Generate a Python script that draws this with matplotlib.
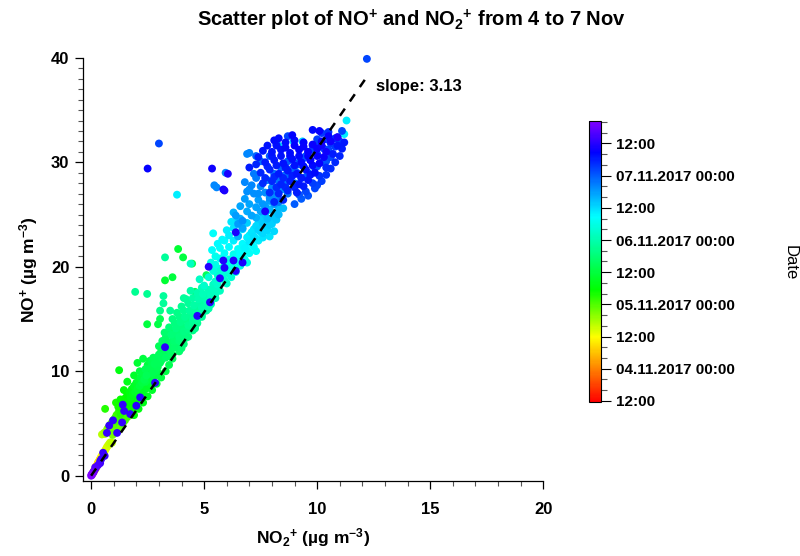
import matplotlib
matplotlib.use('Agg')
import matplotlib.pyplot as plt
from matplotlib.colors import LinearSegmentedColormap
from matplotlib.ticker import MultipleLocator, FixedLocator, FuncFormatter
import matplotlib.dates as mdates
from datetime import datetime, timedelta
import numpy as np

plt.rcParams['font.family'] = ['Liberation Sans', 'DejaVu Sans']
plt.rcParams['font.weight'] = 'bold'
plt.rcParams['mathtext.fontset'] = 'custom'
plt.rcParams['mathtext.rm'] = 'Liberation Sans:bold'
plt.rcParams['mathtext.it'] = 'Liberation Sans:bold'
plt.rcParams['mathtext.bf'] = 'Liberation Sans:bold'
plt.rcParams['mathtext.default'] = 'rm'

# points as (NO2+, NO+, hours after 03.11.2017 12:00)
nov4_am = [(0.05, 0.15, 12), (0.10, 0.30, 13), (0.12, 0.45, 14), (0.18, 0.60, 15),
           (0.22, 0.75, 16), (0.20, 0.85, 17), (0.25, 0.95, 18), (0.28, 1.10, 19),
           (0.30, 1.25, 20), (0.35, 1.40, 21), (0.38, 1.55, 22), (0.42, 1.70, 23)]

nov4_pm = [(0.45, 1.85, 24), (0.50, 2.00, 24.5), (0.55, 2.20, 25), (0.60, 2.35, 25.5),
           (0.65, 2.55, 26), (0.70, 2.75, 26.5), (0.75, 2.90, 27), (0.80, 3.05, 27.5),
           (0.85, 3.20, 28), (0.92, 3.15, 28.5), (0.48, 3.95, 29), (0.57, 4.10, 29.5),
           (0.62, 4.00, 30), (0.70, 4.30, 31), (0.65, 4.20, 31.5), (0.72, 4.50, 32),
           (0.78, 4.30, 32.5), (0.80, 4.70, 33), (0.85, 4.90, 33.5), (0.90, 4.60, 34),
           (0.92, 5.10, 34.5), (0.98, 5.30, 35), (1.00, 4.90, 35.5), (1.05, 5.50, 36),
           (1.10, 5.20, 36.5), (1.12, 5.80, 37), (1.18, 5.60, 37.5), (1.20, 6.00, 38),
           (1.25, 6.30, 38.5), (1.30, 5.90, 39), (1.35, 6.50, 39.5), (0.62, 6.40, 39),
           (1.40, 6.80, 40), (1.10, 7.00, 40), (1.20, 4.30, 34), (1.30, 4.60, 35),
           (1.40, 5.00, 35.5), (1.50, 5.30, 36), (1.60, 5.60, 37), (1.70, 5.90, 38),
           (1.35, 5.50, 36), (1.50, 6.00, 37), (1.15, 4.70, 34), (1.25, 5.00, 35),
           (0.95, 3.90, 33), (1.05, 4.10, 33.5), (1.80, 6.20, 39), (1.60, 6.40, 38.5),
           (1.00, 4.50, 34)]

nov5_am = [(1.40, 7.00, 40.5), (1.50, 7.40, 41), (1.55, 6.80, 41.5), (1.60, 7.80, 42),
           (1.65, 7.20, 42.5), (1.70, 8.00, 43), (1.75, 7.50, 43.5), (1.80, 8.30, 44),
           (1.85, 7.80, 44.5), (1.90, 8.60, 45), (1.95, 8.00, 45.5), (2.00, 8.90, 46),
           (2.05, 8.30, 46.5), (2.10, 9.10, 47), (2.15, 8.60, 47.5), (2.20, 9.40, 48),
           (2.25, 8.90, 48.5), (2.30, 9.80, 49), (2.35, 9.20, 49.5), (2.40, 10.20, 50),
           (2.45, 9.60, 50.5), (2.50, 10.60, 48), (2.55, 10.00, 49), (2.60, 11.00, 49),
           (2.65, 10.40, 50), (2.70, 10.90, 50), (2.75, 11.30, 50.5), (2.80, 10.70, 51),
           (2.90, 11.20, 51), (3.00, 11.60, 51.5), (1.60, 9.00, 44), (1.90, 9.60, 46),
           (1.24, 10.10, 43), (2.05, 10.80, 47), (2.30, 11.20, 48), (1.20, 6.60, 40),
           (1.30, 7.30, 41), (1.45, 8.20, 42), (2.15, 10.00, 48), (2.40, 9.00, 49),
           (2.70, 9.80, 50), (2.48, 14.50, 48), (2.96, 14.50, 49), (3.05, 15.00, 50),
           (3.27, 18.70, 47), (3.60, 19.00, 48), (3.85, 21.70, 47), (4.07, 20.90, 48),
           (4.47, 20.30, 50), (4.60, 17.60, 50), (5.10, 19.20, 51),
           (1.90, 6.50, 41), (2.00, 7.00, 42), (2.10, 7.40, 43), (2.20, 7.80, 44),
           (2.30, 8.10, 45), (2.45, 8.50, 46), (2.55, 8.90, 47), (2.65, 9.30, 48),
           (2.75, 9.60, 49), (2.85, 10.00, 50), (2.95, 10.40, 50.5), (3.05, 10.80, 51),
           (3.15, 11.20, 51.5), (3.30, 11.30, 52), (2.20, 8.30, 44), (2.35, 8.70, 45),
           (2.50, 9.20, 46), (2.60, 9.70, 47), (2.85, 10.50, 49), (3.10, 11.00, 50),
           (1.80, 6.90, 41), (1.95, 7.30, 42), (2.10, 7.90, 43), (2.40, 8.30, 45),
           (2.70, 9.10, 48), (2.90, 9.60, 49), (1.70, 6.40, 40.5), (2.50, 9.90, 47),
           (2.75, 10.30, 48), (2.30, 9.50, 46),
           (2.30, 7.00, 44), (2.50, 7.60, 45), (2.70, 8.20, 46), (2.90, 8.80, 47),
           (3.10, 9.40, 48), (3.30, 10.00, 49), (3.45, 10.60, 50), (3.60, 11.20, 51),
           (2.10, 6.40, 43), (1.90, 5.80, 42), (3.50, 11.90, 52), (3.00, 9.80, 48.5),
           (2.60, 8.40, 46)]

nov5_pm = [(3.10, 11.90, 50), (3.20, 12.30, 50.5), (3.30, 11.80, 51), (3.40, 12.60, 51.5),
           (3.00, 12.40, 51), (3.30, 11.60, 51.5), (3.40, 12.80, 52), (3.50, 12.20, 52.5),
           (3.60, 13.40, 53), (3.70, 12.90, 53.5), (3.30, 13.20, 52), (3.80, 13.80, 54),
           (3.90, 13.30, 54.5), (3.50, 13.90, 53), (4.00, 14.30, 55), (4.10, 13.80, 55.5),
           (3.70, 14.60, 55), (4.20, 14.90, 56), (4.30, 14.40, 56.5), (3.90, 15.20, 56),
           (4.40, 15.40, 57), (4.50, 14.90, 57.5), (4.10, 15.80, 57), (4.60, 16.00, 58),
           (4.70, 15.50, 58.5), (4.30, 16.50, 58), (4.80, 16.60, 59), (4.90, 16.10, 59.5),
           (4.50, 17.00, 59), (5.00, 17.20, 60), (5.10, 16.80, 60.5), (4.70, 17.50, 60),
           (5.20, 17.80, 61), (5.30, 17.30, 61.5), (4.90, 18.00, 61), (5.40, 18.30, 62),
           (3.45, 14.20, 54), (3.60, 15.00, 55), (3.80, 15.60, 56), (4.00, 16.20, 57),
           (4.20, 16.90, 58), (3.25, 13.70, 53), (3.15, 12.90, 52), (4.60, 14.30, 56),
           (4.20, 13.20, 55), (3.80, 12.30, 53), (3.60, 11.60, 52), (4.90, 15.40, 58),
           (5.30, 16.50, 60), (5.50, 17.40, 61), (1.95, 17.60, 57), (2.48, 17.40, 57),
           (3.20, 17.20, 58), (3.20, 16.50, 58), (3.50, 15.80, 57), (3.05, 15.80, 56),
           (3.27, 20.90, 58), (4.10, 17.00, 58), (4.40, 17.70, 59),
           (3.70, 12.30, 53), (3.90, 12.90, 54), (4.10, 13.40, 55), (4.30, 14.00, 56),
           (4.50, 14.50, 57), (4.70, 15.00, 58), (4.90, 15.60, 59), (5.10, 16.20, 60),
           (5.30, 16.90, 61), (5.50, 17.60, 62), (3.60, 12.90, 53), (3.85, 13.60, 54),
           (4.05, 14.20, 55), (4.25, 14.80, 56), (4.45, 15.30, 57), (4.65, 15.90, 58),
           (4.85, 16.40, 59), (5.05, 17.00, 60), (5.25, 17.60, 61), (5.40, 17.90, 62),
           (3.55, 13.50, 54), (3.75, 14.10, 55), (3.95, 14.70, 56), (4.15, 15.20, 57),
           (4.35, 15.80, 58), (4.55, 16.30, 59), (4.75, 16.90, 60), (4.95, 17.40, 61),
           (3.90, 11.90, 53), (4.10, 12.60, 54), (4.30, 13.30, 55), (4.50, 13.90, 56),
           (4.70, 14.60, 57), (4.90, 15.20, 58), (5.10, 15.80, 59), (5.30, 16.40, 60),
           (5.50, 17.00, 61), (5.70, 17.70, 62), (4.00, 12.20, 53.5), (4.60, 14.10, 56.5),
           (5.20, 16.00, 59.5)]

nov6_am = [(5.50, 18.60, 63), (5.60, 19.20, 63.5), (5.20, 19.00, 64), (5.70, 19.80, 64),
           (5.80, 19.30, 64.5), (5.40, 19.60, 65), (5.90, 20.20, 65), (6.00, 19.80, 65.5),
           (5.50, 20.20, 66), (6.10, 20.70, 66), (6.20, 20.30, 66.5), (5.70, 20.80, 67),
           (6.30, 21.20, 67), (6.40, 20.80, 67.5), (5.90, 21.30, 68), (6.50, 21.70, 68),
           (6.60, 21.30, 68.5), (6.10, 21.90, 69), (6.70, 22.20, 69), (6.80, 21.80, 69.5),
           (6.30, 22.50, 70), (6.90, 22.80, 70), (7.00, 22.40, 70.5), (6.50, 23.00, 71),
           (7.10, 23.30, 71), (7.20, 22.90, 71.5), (6.70, 23.60, 72), (7.30, 23.90, 72),
           (7.40, 23.50, 72.5), (6.90, 24.20, 73), (7.50, 24.50, 73), (7.60, 24.10, 73.5),
           (7.70, 25.00, 74), (7.80, 24.60, 74.5), (7.90, 25.50, 75), (7.60, 23.20, 72),
           (7.90, 24.00, 73), (8.10, 24.80, 74), (5.40, 23.20, 68), (5.60, 22.20, 69),
           (5.35, 21.60, 68), (4.40, 20.30, 62), (5.00, 18.20, 63), (4.80, 18.80, 62.5),
           (3.80, 26.90, 70), (11.20, 32.70, 70), (11.30, 34.00, 70), (8.95, 32.00, 72),
           (8.30, 31.60, 72), (9.35, 32.00, 72), (6.00, 23.50, 70), (6.20, 24.30, 71),
           (5.80, 22.60, 69),
           (5.90, 18.70, 63), (6.10, 19.30, 64), (6.30, 19.90, 65), (6.50, 20.50, 66),
           (6.70, 21.00, 67), (6.90, 21.60, 68), (7.10, 22.20, 69), (7.30, 22.70, 70),
           (7.50, 23.30, 71), (7.70, 23.90, 72), (7.90, 24.40, 73), (8.10, 25.10, 74),
           (8.30, 25.60, 75), (5.60, 18.30, 63), (5.80, 19.00, 64), (6.00, 19.60, 65),
           (6.20, 20.10, 66), (6.40, 20.60, 67), (6.60, 21.20, 68), (6.80, 21.90, 69),
           (7.00, 23.00, 70), (7.20, 23.60, 71), (7.40, 24.20, 72), (7.60, 24.80, 73),
           (7.80, 25.40, 74), (5.90, 22.50, 69), (6.10, 23.00, 70), (6.30, 23.70, 71),
           (6.50, 24.50, 72), (5.70, 21.80, 68), (5.50, 21.00, 67), (5.30, 20.40, 66),
           (6.00, 18.40, 63), (6.20, 19.00, 64), (6.40, 19.50, 65), (6.60, 20.10, 66),
           (6.80, 20.70, 67), (7.00, 21.30, 68), (7.20, 21.90, 69), (7.40, 22.50, 70),
           (7.60, 22.80, 71), (7.80, 23.50, 72), (8.00, 24.10, 73), (8.20, 24.50, 74),
           (8.10, 23.40, 72), (8.30, 25.00, 75), (8.50, 25.60, 75), (7.90, 22.90, 71),
           (6.90, 20.40, 66), (7.30, 21.50, 68)]

nov6_pm = [(6.60, 24.60, 76), (6.90, 25.30, 76.5), (7.10, 24.90, 77), (7.00, 26.00, 77),
           (7.30, 25.70, 77.5), (6.80, 26.50, 78), (7.40, 26.40, 78), (7.60, 26.00, 78.5),
           (7.20, 27.00, 79), (7.70, 27.10, 79), (7.90, 26.60, 79.5), (7.50, 27.70, 80),
           (8.00, 27.60, 80), (8.20, 27.20, 80.5), (7.80, 28.30, 81), (8.30, 28.20, 81),
           (8.50, 27.80, 81.5), (8.10, 28.90, 82), (8.60, 28.80, 82), (8.80, 28.40, 82.5),
           (8.40, 29.50, 83), (8.90, 29.40, 83), (9.10, 29.00, 83.5), (8.70, 30.10, 84),
           (9.20, 30.00, 84), (9.40, 29.60, 84.5), (9.50, 30.60, 85), (9.70, 30.20, 85.5),
           (9.80, 31.20, 86), (10.00, 30.80, 86), (10.10, 31.70, 86.5), (10.30, 31.30, 87),
           (10.40, 32.20, 87), (10.60, 31.80, 87.5), (10.80, 32.30, 88), (10.90, 32.40, 87),
           (7.00, 30.90, 80), (6.90, 30.80, 80), (5.95, 29.00, 80), (3.00, 31.80, 86),
           (6.50, 22.90, 76), (6.70, 23.70, 77), (6.40, 24.90, 78), (6.50, 24.10, 78),
           (6.70, 24.40, 79), (5.45, 27.80, 80), (5.55, 27.60, 80), (12.20, 39.90, 86),
           (7.30, 28.50, 81), (7.10, 27.80, 80), (6.90, 27.20, 79), (10.60, 30.50, 86),
           (10.20, 30.00, 85), (9.90, 29.50, 85), (9.50, 28.60, 84), (9.10, 27.90, 83),
           (8.70, 27.00, 82), (8.30, 26.20, 81),
           (7.30, 24.70, 76), (7.50, 25.30, 77), (7.70, 25.80, 77.5), (7.90, 26.30, 78),
           (8.10, 26.00, 78.5), (8.20, 26.90, 79), (8.40, 27.40, 80), (8.60, 27.90, 81),
           (8.80, 28.60, 82), (9.00, 29.20, 83), (9.20, 29.80, 84), (9.40, 30.40, 85),
           (9.60, 31.00, 86), (9.80, 31.60, 86.5), (10.00, 32.20, 87), (10.20, 32.80, 87.5),
           (10.50, 32.90, 88), (10.80, 31.50, 87), (11.00, 32.00, 87), (10.50, 31.20, 86),
           (10.40, 30.10, 85), (10.00, 29.60, 84), (9.60, 29.00, 83), (9.30, 28.50, 82),
           (9.00, 28.00, 81), (8.60, 27.40, 80), (8.20, 26.60, 79), (7.40, 27.00, 79),
           (7.00, 27.40, 79), (6.80, 28.10, 80), (7.20, 28.90, 81), (7.50, 30.10, 82),
           (7.30, 30.60, 83), (7.90, 30.60, 84), (8.20, 31.70, 85), (8.70, 32.50, 86),
           (11.10, 33.00, 86), (6.60, 25.80, 77), (6.30, 25.20, 76),
           (9.60, 26.80, 85), (9.90, 27.50, 86), (10.20, 28.20, 87), (10.40, 28.80, 88),
           (10.60, 29.40, 88.5), (10.80, 30.00, 89), (11.00, 30.60, 89.5), (11.10, 31.30, 90),
           (11.20, 31.90, 90.5), (9.30, 26.50, 84), (9.80, 28.00, 87), (10.10, 28.70, 88),
           (10.40, 29.50, 89), (10.70, 30.80, 90), (10.90, 31.60, 90.5), (9.50, 27.20, 86),
           (10.00, 27.80, 86), (9.00, 26.00, 84), (9.20, 26.90, 85)]

nov7_am = [(8.60, 31.90, 92), (9.00, 32.10, 92), (9.40, 31.90, 92.5), (9.80, 33.10, 92),
           (10.20, 32.00, 93), (10.50, 32.50, 93), (7.60, 31.10, 91), (8.00, 31.00, 91),
           (8.40, 31.20, 91.5), (8.80, 30.90, 92), (9.20, 31.20, 92.5), (9.60, 31.00, 93),
           (10.00, 31.30, 93.5), (10.40, 31.00, 94), (7.70, 30.00, 90), (8.10, 30.20, 90.5),
           (8.50, 29.90, 91), (8.90, 30.30, 91.5), (9.30, 30.00, 92), (9.70, 30.20, 92.5),
           (10.10, 29.90, 93), (10.30, 30.50, 93.5), (7.00, 29.50, 90), (7.50, 29.00, 89),
           (7.90, 29.30, 89.5), (8.30, 28.90, 90), (8.70, 29.20, 90.5), (9.10, 28.90, 91),
           (9.50, 29.30, 91.5), (9.90, 29.00, 92), (7.60, 28.00, 88.5), (8.00, 28.20, 89),
           (8.40, 27.90, 89.5), (8.80, 28.20, 90), (9.20, 27.90, 90.5), (9.60, 28.30, 91),
           (7.90, 27.10, 88.5), (8.30, 27.00, 89), (8.70, 27.30, 89.5), (9.10, 27.10, 90),
           (8.10, 26.20, 89), (8.50, 26.40, 89.5), (2.50, 29.40, 93), (5.35, 29.40, 94),
           (6.05, 28.90, 95), (5.90, 27.30, 95), (5.85, 27.40, 94), (10.90, 32.40, 95),
           (7.80, 31.60, 91), (8.20, 31.60, 91.5), (8.60, 31.40, 92), (9.00, 31.60, 92.5),
           (9.40, 31.50, 93), (9.80, 31.70, 93.5), (10.20, 31.60, 94), (8.00, 30.60, 90.5),
           (8.40, 30.60, 91), (8.80, 30.60, 91.5), (9.20, 30.60, 92), (9.60, 30.60, 92.5),
           (10.00, 30.60, 93), (7.80, 29.60, 89.5), (8.20, 29.70, 90), (8.60, 29.50, 90.5),
           (9.00, 29.70, 91), (9.40, 29.60, 91.5), (9.80, 29.70, 92), (8.10, 28.60, 89),
           (8.50, 28.50, 89.5), (8.90, 28.70, 90), (9.30, 28.50, 90.5), (9.70, 28.80, 91),
           (8.20, 27.60, 88.5), (8.60, 27.60, 89), (9.00, 27.60, 89.5), (9.40, 27.70, 90),
           (7.40, 30.50, 90), (7.30, 29.80, 89.5), (8.30, 32.30, 92), (8.90, 32.60, 92.5),
           (10.10, 33.00, 93), (10.60, 32.00, 94), (7.70, 28.50, 89), (8.10, 32.10, 92)]

nov7_pm = [(7.70, 25.30, 94.5), (6.40, 23.30, 95), (6.70, 20.40, 95), (6.30, 20.60, 95.5),
           (5.85, 20.60, 95.5), (5.90, 19.90, 95.5), (6.40, 19.60, 95.5), (5.20, 20.00, 96),
           (5.70, 18.90, 96), (5.26, 16.60, 96), (4.70, 15.30, 96), (3.27, 12.30, 96.5),
           (2.83, 8.90, 96.5), (2.17, 7.50, 96.5), (2.00, 6.70, 96.5), (1.73, 5.90, 97),
           (1.46, 6.20, 97), (1.37, 5.10, 97), (1.15, 4.10, 97), (0.97, 5.30, 97),
           (0.80, 4.80, 97), (0.70, 4.10, 97.5), (1.40, 6.80, 97), (0.53, 2.20, 97.5),
           (0.45, 1.60, 98), (0.40, 1.40, 98), (0.40, 1.20, 98.5), (0.30, 1.00, 99),
           (0.18, 0.80, 99.5), (0.20, 0.70, 100), (0.60, 1.90, 98), (0.12, 0.40, 101),
           (0.10, 0.35, 102), (0.08, 0.25, 102.5), (0.05, 0.20, 103), (0.03, 0.05, 103.5),
           (0.02, 0.10, 104), (0.00, 0.00, 104)]

fit_slope = 3.13
fit_x_end = 12.2

start = datetime(2017, 11, 3, 12, 0)
c_min = mdates.date2num(start - timedelta(hours=0.4))
c_max = mdates.date2num(start + timedelta(hours=104.3))

pts = np.array(nov4_am + nov4_pm + nov5_am + nov5_pm + nov6_am + nov6_pm + nov7_am + nov7_pm)
pts = pts[np.argsort(pts[:, 2], kind='stable')]
no2 = pts[:, 0]
no = pts[:, 1]
when = mdates.date2num(start) + pts[:, 2] / 24.0

# Igor-like rainbow: red -> yellow -> green -> cyan -> blue -> violet
cmap = LinearSegmentedColormap.from_list('igor_rainbow', [
    (0.0, (1, 0, 0)), (0.23, (1, 1, 0)), (0.40, (0, 1, 0)),
    (0.66, (0, 1, 1)), (0.89, (0, 0, 1)), (1.0, (0.5, 0, 1))])

fig = plt.figure(figsize=(8, 5.56), dpi=100)
ax = fig.add_axes([0.104, 0.135, 0.575, 0.761])

sc = ax.scatter(no2, no, c=when, cmap=cmap, vmin=c_min, vmax=c_max,
                s=32, linewidths=0, clip_on=False, zorder=2)

fx = np.array([0, fit_x_end])
ax.plot(fx, fit_slope * fx, color='black', lw=1.8, ls=(0, (3.5, 3.5)), zorder=3)
ax.text(12.6, 37.3, 'slope: %.2f' % fit_slope, fontsize=12, fontweight='bold',
        ha='left', va='center')

ax.set_xlim(-0.35, 20)
ax.set_ylim(-0.5, 40)
for s in ['top', 'right']:
    ax.spines[s].set_visible(False)
for s in ['left', 'bottom']:
    ax.spines[s].set_linewidth(0.9)
ax.xaxis.set_major_locator(MultipleLocator(5))
ax.xaxis.set_minor_locator(MultipleLocator(1))
ax.yaxis.set_major_locator(MultipleLocator(10))
ax.yaxis.set_minor_locator(MultipleLocator(1))
ax.tick_params(which='major', direction='out', length=6, width=0.9, labelsize=12, pad=4)
ax.tick_params(which='minor', direction='out', length=3.5, width=0.8, color='#555555')
ax.tick_params(axis='x', which='major', pad=9)

ax.set_xlabel('NO$_{2}$$^{+}$ (µg m$^{-3}$)', fontsize=12.5, fontweight='bold', labelpad=7)
ax.set_ylabel('NO$^{+}$ (µg m$^{-3}$)', fontsize=12.5, fontweight='bold', labelpad=8)

fig.text(0.514, 0.963, 'Scatter plot of NO$^{+}$ and NO$_{2}$$^{+}$ from 4 to 7 Nov',
         ha='center', va='center', fontsize=14.5, fontweight='bold')

cax = fig.add_axes([0.736, 0.277, 0.015, 0.505])
cb = fig.colorbar(sc, cax=cax)
cb.outline.set_linewidth(0.8)
major = [mdates.date2num(start + timedelta(hours=12 * k)) for k in range(9)]
minor = [mdates.date2num(start + timedelta(hours=4 * k)) for k in range(27)]
cax.yaxis.set_major_locator(FixedLocator(major))
cax.yaxis.set_minor_locator(FixedLocator(minor))


def date_label(v, pos):
    d = mdates.num2date(v)
    if d.hour == 0:
        return d.strftime('%d.%m.%Y %H:%M')
    return d.strftime('%H:%M')


cax.yaxis.set_major_formatter(FuncFormatter(date_label))
cax.tick_params(which='major', direction='out', length=7, width=0.8, labelsize=11, pad=4)
cax.tick_params(which='minor', direction='out', length=4, width=0.8, color='#555555')

fig.text(0.988, 0.528, 'Date', rotation=270, ha='center', va='center',
         fontsize=12, fontweight='normal')

fig.savefig('out.png', dpi=100)
